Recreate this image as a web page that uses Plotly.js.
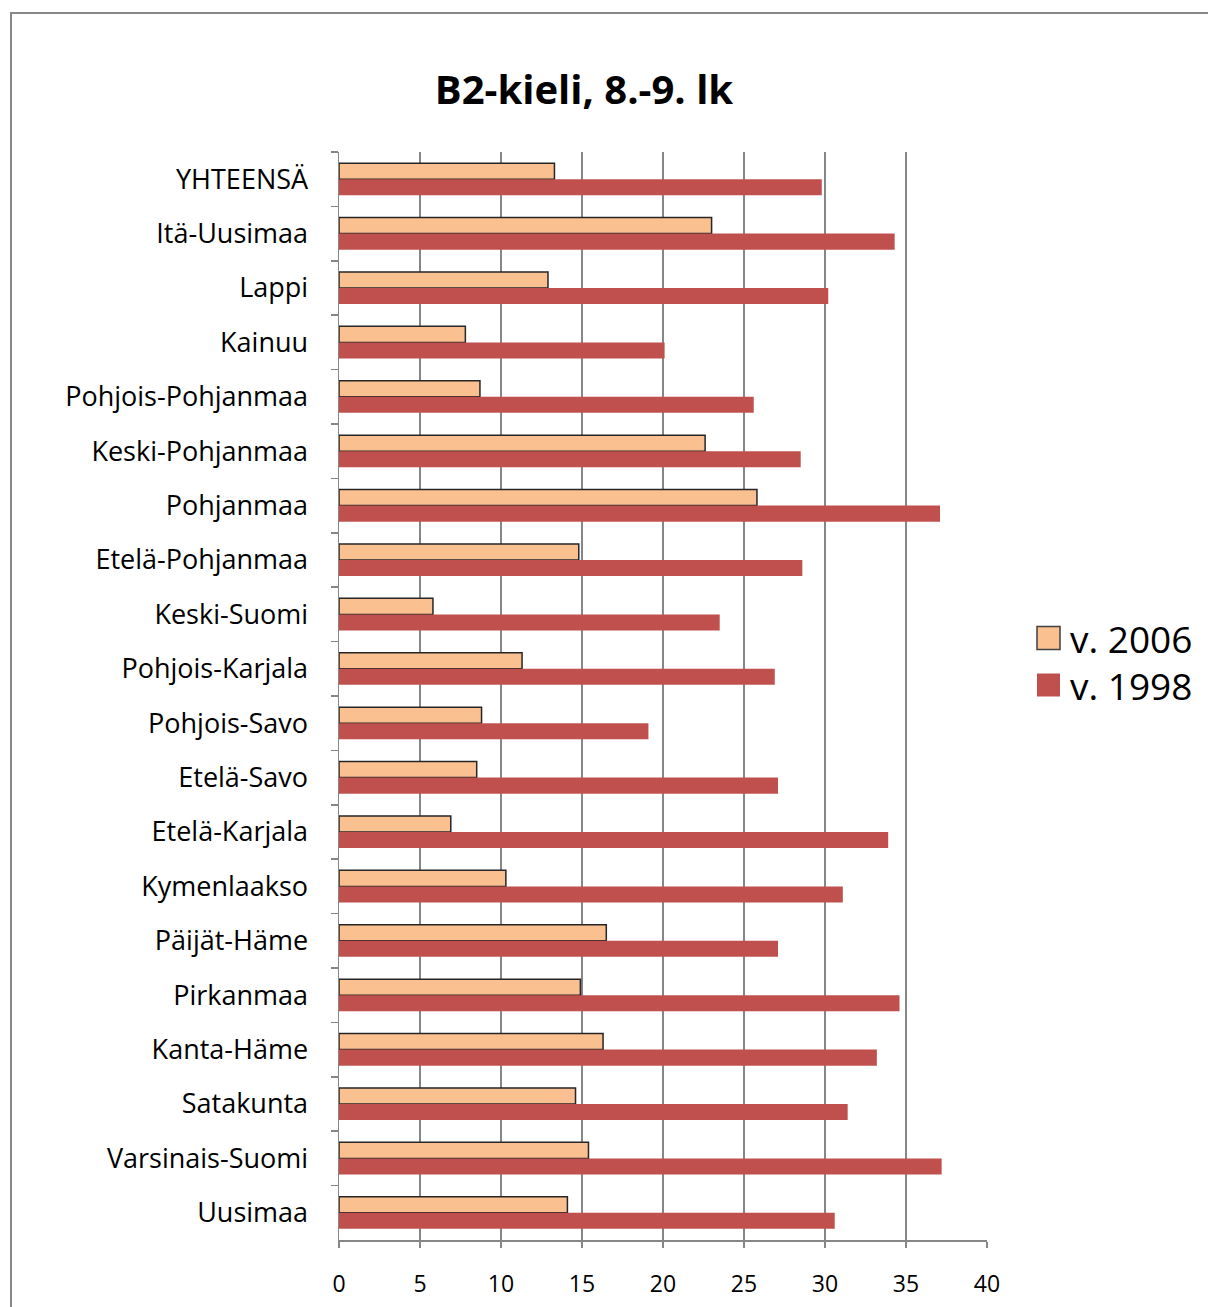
<!DOCTYPE html>
<html>
<head>
<meta charset="utf-8">
<script src="https://cdn.plot.ly/plotly-3.0.1.min.js"></script>
<style>
html,body{margin:0;padding:0;background:#fff;}
#frame{position:absolute;left:10px;top:12px;width:1300px;height:1400px;border:2px solid #888;box-sizing:border-box;pointer-events:none;}
#chart{position:absolute;left:0;top:0;width:1208px;height:1307px;}
</style>
</head>
<body>
<div id="chart"></div>
<div id="frame"></div>
<script>
const categories = ["YHTEENSÄ","Itä-Uusimaa","Lappi","Kainuu","Pohjois-Pohjanmaa","Keski-Pohjanmaa","Pohjanmaa","Etelä-Pohjanmaa","Keski-Suomi","Pohjois-Karjala","Pohjois-Savo","Etelä-Savo","Etelä-Karjala","Kymenlaakso","Päijät-Häme","Pirkanmaa","Kanta-Häme","Satakunta","Varsinais-Suomi","Uusimaa"];
const v2006 = [13.3,23.0,12.9,7.8,8.7,22.6,25.8,14.8,5.8,11.3,8.8,8.5,6.9,10.3,16.5,14.9,16.3,14.6,15.4,14.1];
const v1998 = [29.8,34.3,30.2,20.1,25.6,28.5,37.1,28.6,23.5,26.9,19.1,27.1,33.9,31.1,27.1,34.6,33.2,31.4,37.2,30.6];
const xTicks = [0,5,10,15,20,25,30,35,40];
const seriesNames = ['v. 2006','v. 1998'];
const seriesColors = ['#FAC090','#C0504D'];

const FONT = "'Open Sans', sans-serif";
const traces = [
  {type:'bar', orientation:'h', name:seriesNames[0], y:categories, x:v2006, showlegend:false,
   marker:{color:seriesColors[0], line:{color:'#262626', width:1.5}}},
  {type:'bar', orientation:'h', name:seriesNames[1], y:categories, x:v1998, showlegend:false,
   marker:{color:seriesColors[1], line:{width:0}}}
];

// custom legend (pixel positions converted to paper coords)
const L = 339, W = 648, T = 152, H = 1088;
const px = x => (x - L) / W, py = y => 1 - (y - T) / H;
const legRows = [638, 685];
const shapes = [], annotations = [];
seriesNames.forEach((nm, i) => {
  const cy = legRows[i];
  shapes.push({type:'rect', xref:'paper', yref:'paper', x0:px(1037), x1:px(1060), y0:py(cy-11.5), y1:py(cy+11.5),
    fillcolor:seriesColors[i], line:{color: i===0 ? '#404040' : seriesColors[i], width: i===0 ? 1.5 : 0}});
  annotations.push({xref:'paper', yref:'paper', x:px(1068), y:py(cy), xanchor:'left', yanchor:'middle', showarrow:false,
    text:nm, font:{family:FONT, size:37, color:'#000'}});
});

const layout = {
  width:1208, height:1307,
  margin:{l:339, r:221, t:152, b:67},
  paper_bgcolor:'#fff', plot_bgcolor:'#fff',
  font:{family:FONT, color:'#000'},
  title:{text:'<b>B2-kieli, 8.-9. lk</b>', font:{family:FONT, size:40, color:'#000'},
         xref:'container', x:584/1208, xanchor:'center', yref:'container', y:1-90/1307, yanchor:'middle'},
  barmode:'group', bargap:0.41, bargroupgap:0,
  xaxis:{range:[0,40], tickvals:xTicks, ticktext:xTicks.map(String), showgrid:true, gridcolor:'#868686', gridwidth:1.5,
         zeroline:false, showline:true, linecolor:'#868686', linewidth:1.5, ticks:'outside', ticklen:6, tickcolor:'#868686', tickwidth:1.5,
         tickfont:{family:FONT, size:23, color:'#000'}, ticklabelstandoff:17, fixedrange:true},
  yaxis:{autorange:'reversed', type:'category', showline:true, linecolor:'#868686', linewidth:1.5, ticks:'outside', ticklen:7, tickcolor:'#868686', tickwidth:1.5,
         tickson:'boundaries', showgrid:false, tickfont:{family:FONT, size:27, color:'#000'}, ticklabelstandoff:24},
  showlegend:false,
  shapes:shapes, annotations:annotations
};
Plotly.newPlot('chart', traces, layout, {displayModeBar:false, staticPlot:true});
</script>
</body>
</html>
